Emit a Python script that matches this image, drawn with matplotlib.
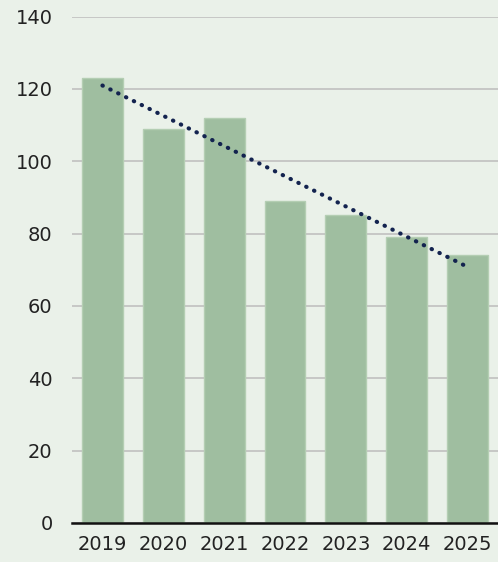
import numpy as np
import matplotlib.pyplot as plt

# values
years = ["2019", "2020", "2021", "2022", "2023", "2024", "2025"]
values = [123, 109, 112, 89, 85, 79, 74]
yticks = [0, 20, 40, 60, 80, 100, 120, 140]

bg = "#eaf1e9"
bar_color = "#9fbea0"

fig = plt.figure(figsize=(4.98, 5.62), dpi=100, facecolor=bg)
ax = fig.add_axes([0.1446, 0.0694, 0.8554, 0.9012])
ax.set_facecolor(bg)

x = np.arange(len(years))
ax.bar(x, values, width=0.67, color=bar_color, edgecolor="#b4ceb3", linewidth=1, zorder=2)

# linear trend line
slope, intercept = np.polyfit(x, values, 1)
ax.plot(x, slope * x + intercept, color="#13234f", linewidth=3,
        linestyle=(0, (0.1, 2.0)), dash_capstyle="round", zorder=3)

ax.set_xlim(-0.5, len(years) - 0.5)
ax.set_ylim(0, 140)
ax.set_yticks(yticks)
ax.set_xticks(x)
ax.set_xticklabels(years)
ax.yaxis.grid(True, color="#c0c0c0", linewidth=1.2, zorder=1)
ax.set_axisbelow(True)

for s in ["top", "right", "left"]:
    ax.spines[s].set_visible(False)
ax.spines["bottom"].set_color("#111111")
ax.spines["bottom"].set_linewidth(1.8)
ax.spines["bottom"].set_zorder(4)

ax.tick_params(axis="y", length=0, pad=14, labelsize=14, labelcolor="#222222")
ax.tick_params(axis="x", length=0, pad=9, labelsize=14, labelcolor="#222222")

fig.savefig("out.png", dpi=100, facecolor=bg)
